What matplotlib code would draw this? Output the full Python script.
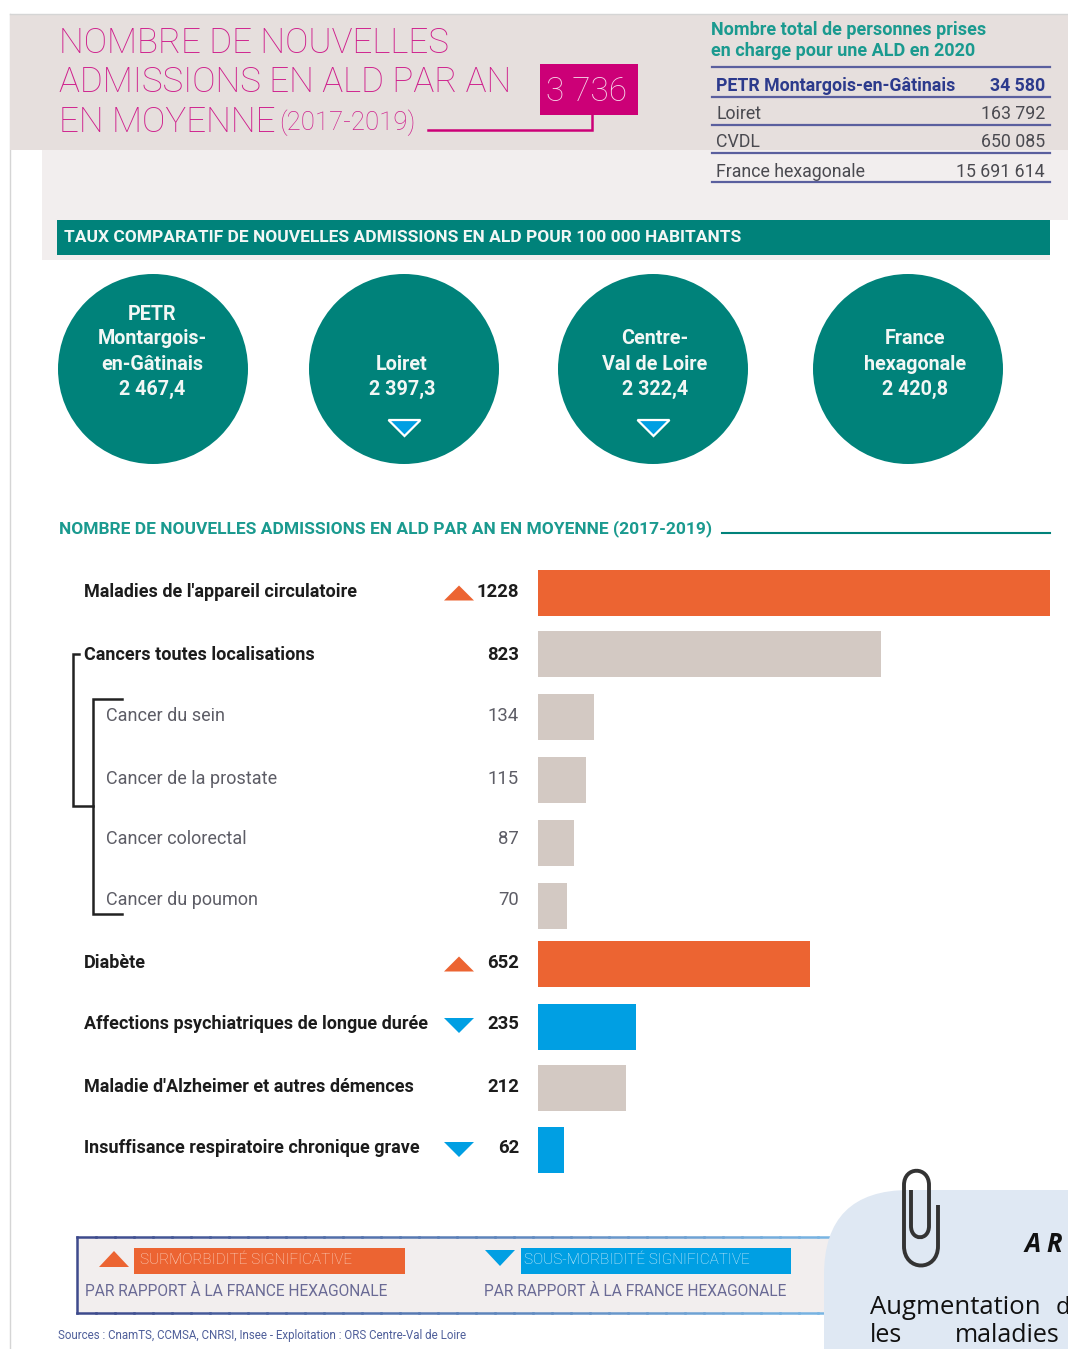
import matplotlib
matplotlib.use("Agg")
import matplotlib.pyplot as plt
from matplotlib.patches import Circle, FancyBboxPatch, PathPatch, Polygon, Rectangle
from matplotlib.path import Path

# Data
causes = [
    "Maladies de l'appareil circulatoire",
    "Cancers toutes localisations",
    "Cancer du sein",
    "Cancer de la prostate",
    "Cancer colorectal",
    "Cancer du poumon",
    "Diabète",
    "Affections psychiatriques de longue durée",
    "Maladie d'Alzheimer et autres démences",
    "Insuffisance respiratoire chronique grave",
]
admissions = [1228, 823, 134, 115, 87, 70, 652, 235, 212, 62]
trend = ["up", None, None, None, None, None, "up", "down", None, "down"]
is_main = [True, True, False, False, False, False, True, True, True, True]

area_names = ["PETR Montargois-en-Gâtinais", "Loiret", "CVDL", "France hexagonale"]
area_totals = ["34 580", "163 792", "650 085", "15 691 614"]

circle_labels = [
    "PETR\nMontargois-\nen-Gâtinais\n2 467,4",
    "Loiret\n2 397,3",
    "Centre-\nVal de Loire\n2 322,4",
    "France\nhexagonale\n2 420,8",
]
circle_trend = [None, "down", "down", None]

# Colours
TEAL = "#00827a"
PINK = "#cf1f8c"
MAGENTA = "#cc0077"
ORANGE = "#ec6432"
BLUE = "#009fe3"
GREY = "#d3c9c3"
NAVY = "#5a5f9e"
DARK = "#1c1c1c"
MID = "#5d5d66"

W, H = 1068, 1349
plt.rcParams["font.family"] = ["Roboto", "DejaVu Sans"]

fig = plt.figure(figsize=(W / 100, H / 100), dpi=100, facecolor="white")

# Page layer, in pixel units
ax = fig.add_axes([0, 0, 1, 1])
ax.set_xlim(0, W)
ax.set_ylim(H, 0)
ax.axis("off")


def rect(x0, y0, x1, y1, color, z=1):
    ax.add_patch(Rectangle((x0, y0), x1 - x0, y1 - y0, fc=color, ec="none", zorder=z))


def triangle(cx, cy, direction, color, w=30, h=15, edge="none"):
    sign = -1 if direction == "up" else 1
    pts = [(cx - w / 2, cy - sign * h / 2), (cx + w / 2, cy - sign * h / 2), (cx, cy + sign * h / 2)]
    ax.add_patch(Polygon(pts, closed=True, fc=color, ec=edge, lw=1.6, zorder=4))


# Header bands
ax.plot([10, 10], [14, H], color="#d5d5d5", lw=1, zorder=1)
ax.plot([10, W], [14, 14], color="#d5d5d5", lw=1, zorder=2)
rect(10, 14, W, 150, "#e6dfdd")
rect(42, 150, W, 220, "#f2eeee")
rect(42, 220, 1050, 260, "#f2eeee")

# Main title
for line, y in zip(["NOMBRE DE NOUVELLES", "ADMISSIONS EN ALD PAR AN", "EN MOYENNE"], [40, 79, 119]):
    ax.text(59, y + 3, line, color=PINK, fontsize=25.2, fontweight="light", va="center", ha="left", zorder=3)
ax.text(279, 123, "(2017-2019)", color=PINK, fontsize=18.5, fontweight="light", va="center", ha="left", zorder=3)
rect(540, 64, 638, 115, MAGENTA, z=3)
ax.text(586, 92, "3 736", color="#f7d9ea", fontsize=24, fontweight="light", va="center", ha="center", zorder=4)
ax.plot([428, 592, 592], [130, 130, 115], color=MAGENTA, lw=1.8, zorder=3, solid_joinstyle="miter")

# Table of people in long-term care
ax.text(711, 30, "Nombre total de personnes prises", color="#1a9a8f", fontsize=13, fontweight="bold", va="center", zorder=3)
ax.text(711, 51, "en charge pour une ALD en 2020", color="#1a9a8f", fontsize=13, fontweight="bold", va="center", zorder=3)
ax.plot([712, 1050], [67, 67], color=NAVY, lw=1.6, zorder=3)
for i, (name, total) in enumerate(zip(area_names, area_totals)):
    y = [86, 114, 142, 172][i]
    color = "#2c3a8c" if i == 0 else "#4a4a50"
    weight = "bold" if i == 0 else "normal"
    ax.text(716, y, name, color=color, fontsize=12.8, fontweight=weight, va="center", zorder=3)
    ax.text(1045, y, total, color=color, fontsize=12.8, fontweight=weight, va="center", ha="right", zorder=3)
    ax.plot([712, 1050], [[97, 125, 153, 182][i]] * 2, color=NAVY, lw=1.6, zorder=3)

# Teal banner
rect(57, 220, 1050, 255, TEAL, z=3)
ax.text(64, 237.5, "TAUX COMPARATIF DE NOUVELLES ADMISSIONS EN ALD POUR 100 000 HABITANTS",
        color="#f2f7f5", fontsize=12.5, fontweight="bold", va="center", zorder=4)

# Rate circles
label_x = [152, 402, 655, 915]
for cx, tx, label, tr in zip([153, 404, 653, 908], label_x, circle_labels, circle_trend):
    ax.add_patch(Circle((cx, 369), 95, fc=TEAL, ec="none", zorder=3))
    lines = label.split("\n")
    for k, line in enumerate(lines):
        y = 389 - (len(lines) - 1 - k) * 25
        ax.text(tx, y, line, color="#f2f7f5", fontsize=14.2, fontweight="bold", va="center", ha="center", zorder=4)
    if tr:
        triangle(cx + 0.5, 428, tr, BLUE, w=32, h=16, edge="white")

# Section heading
ax.text(59, 529, "NOMBRE DE NOUVELLES ADMISSIONS EN ALD PAR AN EN MOYENNE (2017-2019)",
        color="#1a9a8f", fontsize=12.55, fontweight="bold", va="center", zorder=3)
ax.plot([722, 1050], [533, 533], color=TEAL, lw=1.5, zorder=3)

# Row labels and values
row_y = [593, 654, 717, 780, 843, 906, 964, 1027, 1088, 1150]
label_y = [592, 655, 716, 779, 839, 900, 963, 1024, 1087, 1148]
for y, name, val, tr, main in zip(label_y, causes, admissions, trend, is_main):
    color = DARK if main else MID
    weight = "bold" if main else "normal"
    x = 84 if main else 106
    ax.text(x, y, name, color=color, fontsize=13, fontweight=weight, va="center", zorder=3)
    ax.text(519, y, str(val), color=color, fontsize=13.3, fontweight=weight, va="center", ha="right", zorder=3)
    if tr == "up":
        triangle(459, y + 1, "up", ORANGE)
    elif tr == "down":
        triangle(459, y + 1.5, "down", BLUE)

# Brackets around the cancer rows
ax.plot([79, 73, 73, 93], [654, 654, 806, 806], color="#222222", lw=1.8, zorder=3, solid_joinstyle="miter")
ax.plot([122, 93, 93, 122], [699, 699, 914, 914], color="#222222", lw=1.8, zorder=3, solid_joinstyle="miter")

# Legend box
rect(77, 1237, 835, 1313, "#f2eeee")
ax.plot([77, 77], [1237, 1313], color="#3e4a8c", lw=1.8, zorder=2)
steps = 40
for i in range(steps):
    t = i / steps
    x0 = 77 + t * 760
    x1 = 77 + (i + 1) / steps * 760
    col = (0.24 + t * 0.24, 0.29 + t * 0.43, 0.55 + t * 0.35)
    ax.plot([x0, x1], [1237, 1237], color=col, lw=1.8, zorder=2)
    ax.plot([x0, x1], [1313, 1313], color=col, lw=1.8, zorder=2)
triangle(114, 1259, "up", ORANGE, w=30, h=16)
rect(134, 1248, 405, 1274, ORANGE, z=3)
ax.text(140, 1260, "SURMORBIDITÉ SIGNIFICATIVE", color="#fbd8c8", fontsize=11, fontweight="light", va="center", zorder=4)
triangle(500, 1258, "down", BLUE, w=30, h=16)
rect(521, 1248, 791, 1274, BLUE, z=3)
ax.text(524, 1260, "SOUS-MORBIDITÉ SIGNIFICATIVE", color="#d8f0fb", fontsize=11, fontweight="light", va="center", zorder=4)
for x in [85, 484]:
    ax.text(x, 1292, "PAR RAPPORT À LA FRANCE HEXAGONALE", color="#6a6a95", fontsize=11.2, va="center", zorder=3)

ax.text(58, 1335, "Sources : CnamTS, CCMSA, CNRSI, Insee - Exploitation : ORS Centre-Val de Loire",
        color="#4f5f9a", fontsize=8.3, va="center", zorder=3)

# Note panel that runs off the page
ax.add_patch(FancyBboxPatch((909, 1275), 400, 300, boxstyle="round,pad=85,rounding_size=85",
                            fc="#dfe8f3", ec="none", zorder=5, clip_on=True))
note_font = ["Open Sans", "DejaVu Sans"]
ax.text(1025, 1245, "A R", color="#111111", fontsize=18.5, fontweight="bold", style="italic",
        family=note_font, va="center", zorder=6)
ax.text(870, 1308, "Augmentation", color="#111111", fontsize=18.5, family=note_font, va="center", zorder=6)
ax.text(1056, 1308, "d", color="#111111", fontsize=17, family=note_font, va="center", zorder=6)
ax.text(870, 1336, "les", color="#111111", fontsize=18, family=note_font, va="center", zorder=6)
ax.text(955, 1336, "maladies", color="#111111", fontsize=18, family=note_font, va="center", zorder=6)

# Paperclip
clip_verts = [
    (911, 1190), (911, 1226), (911, 1241), (929, 1241), (929, 1226),
    (929, 1185), (929, 1166), (904, 1166), (904, 1185),
    (904, 1246), (904, 1272), (938, 1272), (938, 1246), (938, 1205),
]
clip_codes = [
    Path.MOVETO, Path.LINETO, Path.CURVE4, Path.CURVE4, Path.CURVE4,
    Path.LINETO, Path.CURVE4, Path.CURVE4, Path.CURVE4,
    Path.LINETO, Path.CURVE4, Path.CURVE4, Path.CURVE4, Path.LINETO,
]
ax.add_patch(PathPatch(Path(clip_verts, clip_codes), fc="none", ec="#333333", lw=2.8, zorder=7))

# Bars: same vertical pixel range as the page, x scaled on the largest value
bar_ax = fig.add_axes([538 / W, 0, (1050 - 538) / W, 1], facecolor="none", zorder=0.5)
bar_ax.set_xlim(0, max(admissions))
bar_ax.set_ylim(H, 0)
bar_ax.axis("off")
colors = [ORANGE if t == "up" else BLUE if t == "down" else GREY for t in trend]
bar_ax.barh(row_y, admissions, height=46, color=colors, edgecolor="none")

fig.savefig("out.png", dpi=100)
